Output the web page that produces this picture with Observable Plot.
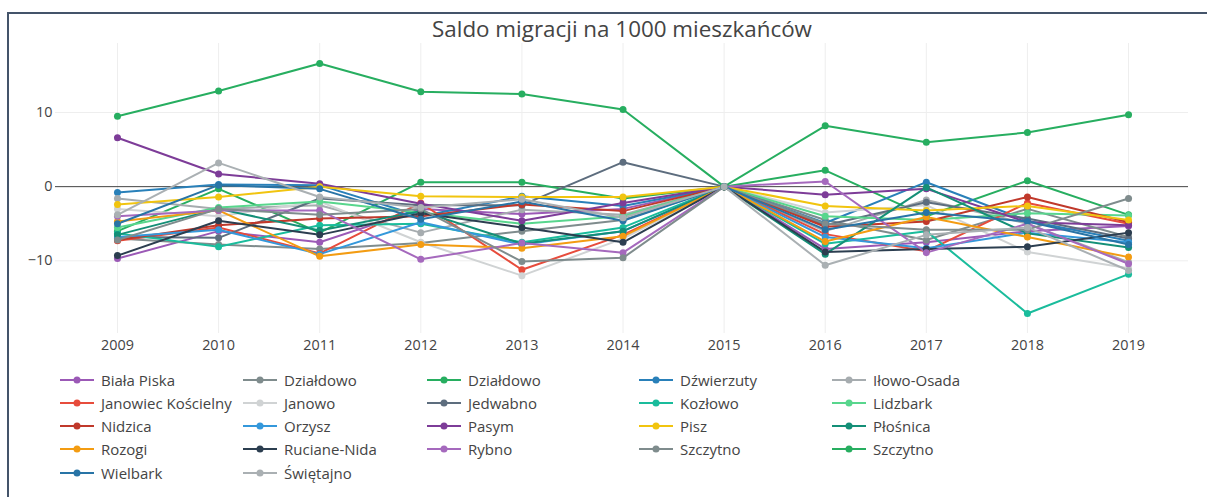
<!DOCTYPE html>
<html>
<head>
<meta charset="utf-8">
<script src="https://cdn.jsdelivr.net/npm/d3@7"></script>
<script src="https://cdn.jsdelivr.net/npm/@observablehq/plot@0.6"></script>
<style>
  html, body { margin: 0; padding: 0; background: #fff; }
  body { width: 1207px; height: 497px; position: relative; overflow: hidden; font-family: "Open Sans", "DejaVu Sans", sans-serif; color: #444; }
  #frame { position: absolute; left: 7px; top: 12px; right: -10px; bottom: -10px; border-top: 2px solid #44546a; border-left: 2px solid #44546a; }
  #title { position: absolute; left: 0; width: 1244px; top: 14px; text-align: center; font-size: 22.4px; color: #444; line-height: 30px; }
  #chart { position: absolute; left: 0; top: 40px; }
  #legend { position: absolute; left: 0; top: 368px; width: 1207px; height: 120px; }
  .item { position: absolute; height: 23px; display: flex; align-items: center; font-size: 15px; color: #444; white-space: nowrap; }
  .item svg { margin-right: 7px; }
</style>
</head>
<body>
<div id="frame"></div>
<div id="title">Saldo migracji na 1000 mieszkańców</div>
<div id="chart"></div>
<div id="legend"></div>
<script>
const years = [2009, 2010, 2011, 2012, 2013, 2014, 2015, 2016, 2017, 2018, 2019];
const names = ["Biała Piska", "Działdowo", "Działdowo", "Dźwierzuty", "Iłowo-Osada",
  "Janowiec Kościelny", "Janowo", "Jedwabno", "Kozłowo", "Lidzbark",
  "Nidzica", "Orzysz", "Pasym", "Pisz", "Płośnica",
  "Rozogi", "Ruciane-Nida", "Rybno", "Szczytno", "Szczytno",
  "Wielbark", "Świętajno"];
const palette = ["#9b59b6", "#7f8c8d", "#27ae60", "#2980b9", "#a6acaf",
  "#e74c3c", "#d0d3d4", "#5d6d7e", "#1abc9c", "#58d68d",
  "#c0392b", "#3498db", "#7d3c98", "#f1c40f", "#148f77",
  "#f39c12", "#2c3e50", "#a569bd", "#7f8c8d", "#27ae60",
  "#2874a6", "#aab0b3"];
const bialaPiska      = [-9.7, -6.0, -7.5, -3.0, -3.7, -3.0, 0, -8.4, -7.5, -6.0, -5.3];
const dzialdowoGrey   = [-7.0, -7.8, -8.4, -7.6, -6.0, -4.5, 0, -4.5, -7.2, -3.0, -6.8];
const dzialdowoGreen  = [-6.0, -0.3, -6.2, 0.6, 0.6, -1.6, 0, 2.2, -4.0, 0.8, -3.8];
const dzwierzuty      = [-0.8, 0.3, 0.2, -4.0, -1.3, -2.6, 0, -4.9, 0.6, -4.6, -7.3];
const ilowoOsada      = [-1.6, -3.0, -2.5, -6.2, -3.1, -3.8, 0, -6.0, -1.8, -5.0, -10.2];
const janowiec        = [-7.3, -5.5, -9.0, -2.2, -11.2, -6.5, 0, -6.4, -8.7, -2.2, -5.0];
const janowo          = [-3.0, -4.0, -2.0, -7.5, -12.0, -7.0, 0, -3.5, -2.5, -8.8, -11.0];
const jedwabno        = [-6.8, -6.9, -1.6, -2.5, -2.5, 3.3, 0, -5.2, -2.1, -4.3, -7.0];
const kozlowo         = [-6.3, -8.1, -5.2, -5.0, -7.5, -5.5, 0, -7.7, -6.0, -17.1, -11.8];
const lidzbark        = [-5.5, -2.8, -2.0, -3.5, -5.0, -4.0, 0, -4.0, -4.5, -3.6, -3.9];
const nidzica         = [-7.2, -5.2, -4.3, -4.0, -2.4, -3.3, 0, -5.4, -4.7, -1.4, -4.8];
const orzysz          = [-6.8, -5.8, -9.1, -4.8, -7.8, -6.0, 0, -6.8, -8.3, -6.2, -7.5];
const pasym           = [6.6, 1.7, 0.4, -2.3, -4.6, -2.2, 0, -1.1, -0.3, -4.8, -5.2];
const pisz            = [-2.4, -1.4, 0.0, -1.3, -1.4, -1.4, 0, -2.6, -3.2, -2.6, -4.5];
const plosnica        = [-6.5, -3.0, -5.9, -3.3, -7.7, -6.0, 0, -9.1, -0.1, -6.3, -8.2];
const rozogi          = [-4.7, -3.2, -9.4, -7.8, -8.3, -6.7, 0, -7.4, -4.1, -6.8, -9.5];
const rucianeNida     = [-9.3, -4.6, -6.5, -3.6, -5.5, -7.5, 0, -8.8, -8.4, -8.1, -6.2];
const rybno           = [-4.0, -3.2, -3.2, -9.8, -7.6, -8.9, 0, 0.7, -8.9, -5.0, -10.4];
const szczytnoGrey    = [-7.2, -3.0, -3.8, -3.0, -10.1, -9.6, 0, -5.0, -5.8, -5.8, -1.6];
const szczytnoGreen   = [9.5, 12.9, 16.6, 12.8, 12.5, 10.4, 0, 8.2, 6.0, 7.3, 9.7];
const wielbark        = [-5.0, 0.2, -0.3, -4.4, -2.0, -4.6, 0, -5.8, -3.5, -4.7, -7.8];
const swietajno       = [-3.8, 3.2, -1.4, -2.8, -1.7, -4.2, 0, -10.6, -6.5, -5.5, -11.3];
const yTicks = [-10, 0, 10];

const seriesValues = [bialaPiska, dzialdowoGrey, dzialdowoGreen, dzwierzuty, ilowoOsada,
  janowiec, janowo, jedwabno, kozlowo, lidzbark, nidzica, orzysz, pasym, pisz, plosnica,
  rozogi, rucianeNida, rybno, szczytnoGrey, szczytnoGreen, wielbark, swietajno];

const ids = names.map((n, i) => i + ":" + n);
const data = [];
seriesValues.forEach((vals, i) => {
  vals.forEach((v, j) => data.push({id: ids[i], year: years[j], value: v}));
});

const chart = Plot.plot({
  width: 1207,
  height: 320,
  marginTop: 3,
  marginBottom: 27,
  marginLeft: 55,
  marginRight: 19,
  style: {fontFamily: '"Open Sans", sans-serif', fontSize: "14.4px", color: "#444", background: "transparent"},
  x: {domain: [2008.387, 2019.593], label: null},
  y: {domain: [-19.8, 19.3], label: null},
  color: {domain: ids, range: palette},
  marks: [
    Plot.gridX(years, {stroke: "#eeeeee", strokeOpacity: 1, strokeWidth: 1}),
    Plot.gridY(yTicks.filter(d => d !== 0), {stroke: "#eeeeee", strokeOpacity: 1, strokeWidth: 1}),
    Plot.ruleY([0], {stroke: "#444", strokeWidth: 1}),
    Plot.axisX(years, {tickSize: 0, tickPadding: 6, tickFormat: d => String(d), fill: "#444", fontSize: 14.4, label: null}),
    Plot.axisY(yTicks, {tickSize: 0, tickPadding: 3, fill: "#444", fontSize: 14.4, label: null}),
    Plot.line(data, {x: "year", y: "value", z: "id", stroke: "id", strokeWidth: 2}),
    Plot.dot(data, {x: "year", y: "value", fill: "id", r: 3.5})
  ]
});
document.getElementById("chart").appendChild(chart);

// legend
const colX = [60, 243, 427, 639, 832];
const legend = d3.select("#legend");
ids.forEach((id, i) => {
  const col = i % 5, row = Math.floor(i / 5);
  const item = legend.append("div").attr("class", "item")
    .style("left", colX[col] + "px")
    .style("top", (row * 23.3) + "px");
  const s = item.append("svg").attr("width", 34).attr("height", 10);
  s.append("line").attr("x1", 0).attr("x2", 34).attr("y1", 5).attr("y2", 5)
    .attr("stroke", palette[i]).attr("stroke-width", 2);
  s.append("circle").attr("cx", 17).attr("cy", 5).attr("r", 3.5).attr("fill", palette[i]);
  item.append("span").text(names[i]);
});
</script>
</body>
</html>
